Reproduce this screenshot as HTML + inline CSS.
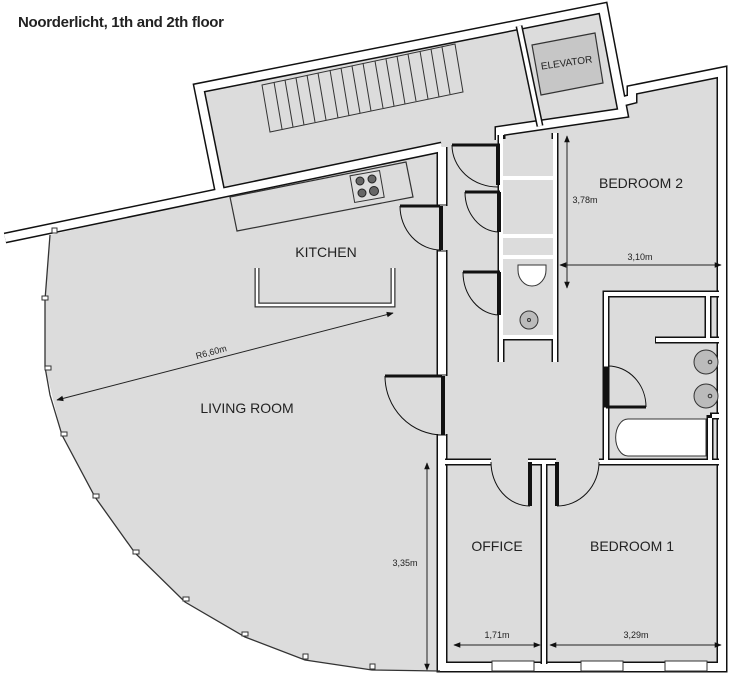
<!DOCTYPE html>
<html><head><meta charset="utf-8"><style>
html,body{margin:0;padding:0;background:#fff;}
svg{display:block;}
text{font-family:"Liberation Sans",sans-serif;fill:#222;}
</style></head><body>
<svg width="736" height="683" viewBox="0 0 736 683" xmlns="http://www.w3.org/2000/svg">
<defs>
<marker id="ar" viewBox="0 0 10 10" refX="9" refY="5" markerWidth="7" markerHeight="7" orient="auto-start-reverse"><path d="M0,1 L10,5 L0,9 z" fill="#111"/></marker>
</defs>
<text x="18" y="27" font-size="15" font-weight="bold" style="letter-spacing:-0.3px">Noorderlicht, 1th and 2th floor</text>

<!-- gray fill -->
<polygon fill="#dcdcdc" points="50,235 218,196 200,90 603,9 622,110 632,95 720,76 720,665 440,670 372,670 305,660 245,637 185,602 135,553 95,497 62,435 45,367 45,300"/>

<!-- outer walls (double line) -->
<g fill="none" stroke-linejoin="miter">
 <g stroke="#111" stroke-width="11">
  <polyline points="5,238 442,147"/>
  <polyline points="220,192 199,88 603,8 623,113 500,131 500,140"/>
  <polyline points="620,102 632,99 632,90 722,72 722,667 442,667 442,147"/>
 </g>
 <g stroke="#fff" stroke-width="8">
  <polyline points="5,238 442,147"/>
  <polyline points="220,192 199,88 603,8 623,113 500,131 500,140"/>
  <polyline points="620,102 632,99 632,90 722,72 722,667 442,667 442,147"/>
 </g>
</g>
<!-- door gaps in x=442 wall -->
<rect x="436" y="206" width="12" height="44" fill="#dcdcdc"/>
<rect x="436" y="376" width="12" height="58" fill="#dcdcdc"/>
<line x1="437" y1="205" x2="447" y2="205" stroke="#111"/>
<line x1="437" y1="251" x2="447" y2="251" stroke="#111"/>
<line x1="437" y1="375" x2="447" y2="375" stroke="#111"/>
<line x1="437" y1="435" x2="447" y2="435" stroke="#111"/>

<!-- arc wall -->
<polyline fill="none" stroke="#333" stroke-width="1.3" points="50,235 45,300 45,367 50,395 62,435 95,497 135,553 185,602 245,637 305,660 372,670 440,671"/>
<g fill="#fff" stroke="#333" stroke-width="1">
 <rect x="42" y="296" width="6" height="4"/><rect x="45" y="366" width="6" height="4"/>
 <rect x="61" y="432" width="6" height="4"/><rect x="93" y="494" width="6" height="4"/>
 <rect x="133" y="550" width="6" height="4"/><rect x="183" y="597" width="6" height="4"/>
 <rect x="242" y="632" width="6" height="4"/><rect x="303" y="654" width="5" height="5"/>
 <rect x="370" y="664" width="5" height="5"/><rect x="52" y="228" width="5" height="5"/>
</g>

<!-- stairs -->
<g stroke="#333" stroke-width="1" fill="none">
 <polygon points="262,85 455,44 463,92 270,132"/>
</g>
<g stroke="#333" stroke-width="1">
 <line x1="274" y1="82" x2="282" y2="129"/><line x1="285" y1="80" x2="293" y2="127"/>
 <line x1="296" y1="78" x2="304" y2="125"/><line x1="307" y1="75" x2="315" y2="122"/>
 <line x1="318" y1="73" x2="326" y2="120"/><line x1="330" y1="70" x2="338" y2="118"/>
 <line x1="341" y1="68" x2="349" y2="116"/><line x1="352" y1="66" x2="360" y2="113"/>
 <line x1="363" y1="63" x2="371" y2="111"/><line x1="375" y1="61" x2="383" y2="108"/>
 <line x1="386" y1="59" x2="394" y2="106"/><line x1="397" y1="56" x2="405" y2="104"/>
 <line x1="408" y1="54" x2="416" y2="101"/><line x1="420" y1="51" x2="428" y2="99"/>
 <line x1="431" y1="49" x2="439" y2="97"/><line x1="442" y1="47" x2="450" y2="94"/>
</g>
<!-- elevator shaft divider -->
<polyline fill="none" stroke="#111" stroke-width="7" points="519,26 540,126"/>
<polyline fill="none" stroke="#fff" stroke-width="4" points="519,26 540,126"/>
<polygon points="532,45 595,33 603,83 541,95" fill="#c6c6c6" stroke="#333" stroke-width="1.2"/>
<text x="567" y="66" font-size="10" text-anchor="middle" transform="rotate(-8 567 66)">ELEVATOR</text>

<!-- kitchen counter -->
<polygon points="230,197 406,162 413,197 237,231" fill="#dcdcdc" stroke="#333" stroke-width="1.2"/>
<rect x="352" y="173" width="30" height="27" fill="#ddd" stroke="#333" transform="rotate(-10 367 186)"/>
<g fill="#666" stroke="#222"><circle cx="360" cy="181" r="4"/><circle cx="372" cy="179" r="4"/><circle cx="362" cy="193" r="4"/><circle cx="374" cy="191" r="4.5"/></g>
<!-- island -->
<path d="M257,268 V305 H393 V268" fill="none" stroke="#333" stroke-width="5"/>
<path d="M257,268 V305 H393 V268" fill="none" stroke="#fff" stroke-width="2.5"/>

<!-- closet column -->
<g fill="none">
 <g stroke="#111" stroke-width="7">
  <line x1="501" y1="135" x2="501" y2="362"/><line x1="555" y1="133" x2="555" y2="362"/>
  <line x1="501" y1="178" x2="555" y2="178"/><line x1="501" y1="236" x2="555" y2="236"/>
  <line x1="501" y1="257" x2="555" y2="257"/><line x1="501" y1="337" x2="555" y2="337"/>
 </g>
 <g stroke="#fff" stroke-width="4">
  <line x1="501" y1="135" x2="501" y2="362"/><line x1="555" y1="133" x2="555" y2="362"/>
  <line x1="501" y1="178" x2="555" y2="178"/><line x1="501" y1="236" x2="555" y2="236"/>
  <line x1="501" y1="257" x2="555" y2="257"/><line x1="501" y1="337" x2="555" y2="337"/>
 </g>
</g>
<rect x="503" y="139" width="50" height="37" fill="#dcdcdc"/>
<rect x="503" y="180" width="50" height="54" fill="#dcdcdc"/>
<rect x="503" y="238" width="50" height="17" fill="#dcdcdc"/>
<rect x="503" y="259" width="50" height="76" fill="#dcdcdc"/>
<path d="M518,265 h28 v5 a14,16 0 1 1 -28,0 z" fill="#fff" stroke="#333"/>
<circle cx="529" cy="320" r="9" fill="#bbb" stroke="#333"/><circle cx="529" cy="320" r="1.5" fill="none" stroke="#333"/>

<!-- doors -->
<g fill="none" stroke="#111">
 <line x1="452" y1="145" x2="500" y2="145" stroke-width="3"/><line x1="498" y1="145" x2="498" y2="185" stroke-width="4"/>
 <path d="M452,145 A46,42 0 0 0 498,187" stroke-width="1"/>
 <line x1="465" y1="192" x2="500" y2="192" stroke-width="3"/><line x1="499" y1="192" x2="499" y2="232" stroke-width="4"/>
 <path d="M465,192 A35,40 0 0 0 499,232" stroke-width="1"/>
 <line x1="463" y1="272" x2="500" y2="272" stroke-width="3"/><line x1="499" y1="272" x2="499" y2="315" stroke-width="4"/>
 <path d="M463,272 A37,43 0 0 0 499,315" stroke-width="1"/>
 <line x1="400" y1="206" x2="440" y2="206" stroke-width="3"/><line x1="441" y1="206" x2="441" y2="250" stroke-width="4"/>
 <path d="M400,206 A41,44 0 0 0 441,250" stroke-width="1"/>
 <line x1="385" y1="376" x2="442" y2="376" stroke-width="3"/><line x1="443" y1="376" x2="443" y2="435" stroke-width="4"/>
 <path d="M385,376 A58,59 0 0 0 443,435" stroke-width="1"/>
</g>

<!-- bathroom -->
<g fill="none">
 <g stroke="#111" stroke-width="7">
  <polyline points="606,460 606,294 719,294"/>
  <line x1="708" y1="294" x2="708" y2="340"/><line x1="655" y1="340" x2="719" y2="340"/>
  <line x1="710" y1="415" x2="710" y2="460"/><line x1="710" y1="416" x2="719" y2="416"/>
  <line x1="445" y1="462" x2="719" y2="462"/><line x1="544" y1="462" x2="544" y2="664"/>
 </g>
 <g stroke="#fff" stroke-width="4">
  <polyline points="606,460 606,294 719,294"/>
  <line x1="708" y1="296" x2="708" y2="338"/><line x1="656" y1="340" x2="719" y2="340"/>
  <line x1="710" y1="418" x2="710" y2="460"/><line x1="712" y1="416" x2="719" y2="416"/>
  <line x1="445" y1="462" x2="719" y2="462"/><line x1="544" y1="462" x2="544" y2="664"/>
 </g>
</g>
<path d="M628,419 h78 v37 h-78 a12,18 0 0 1 0,-37 z" fill="#fff" stroke="#333"/>
<circle cx="706" cy="362" r="12" fill="#bbb" stroke="#333"/><circle cx="710" cy="362" r="1.8" fill="none" stroke="#333"/>
<circle cx="706" cy="396" r="12" fill="#bbb" stroke="#333"/><circle cx="710" cy="396" r="1.8" fill="none" stroke="#333"/>
<g fill="none" stroke="#111">
 <rect x="603" y="367" width="5" height="40" fill="#111"/>
 <line x1="606" y1="407" x2="646" y2="407" stroke-width="3"/>
 <path d="M608,366 A38,41 0 0 1 646,407" stroke-width="1"/>
</g>
<!-- office/bedroom1 door gaps -->
<rect x="491" y="457" width="37" height="10" fill="#dcdcdc"/>
<rect x="556" y="457" width="43" height="10" fill="#dcdcdc"/>
<g fill="none" stroke="#111">
 <line x1="530" y1="462" x2="530" y2="506" stroke-width="4"/>
 <path d="M491,462 A39,44 0 0 0 530,506" stroke-width="1"/>
 <line x1="557" y1="462" x2="557" y2="506" stroke-width="4"/>
 <path d="M599,462 A42,44 0 0 1 557,506" stroke-width="1"/>
</g>
<!-- window bumps bottom -->
<g fill="#fff" stroke="#333">
 <rect x="492" y="661" width="42" height="10"/><rect x="581" y="661" width="42" height="10"/><rect x="665" y="661" width="42" height="10"/>
</g>

<!-- dimensions -->
<g stroke="#222" stroke-width="1" marker-start="url(#ar)" marker-end="url(#ar)">
 <line x1="567" y1="136" x2="567" y2="288"/>
 <line x1="560" y1="265" x2="721" y2="265"/>
 <line x1="57" y1="400" x2="393" y2="313"/>
 <line x1="427" y1="463" x2="427" y2="670"/>
 <line x1="454" y1="645" x2="540" y2="645"/>
 <line x1="550" y1="645" x2="721" y2="645"/>
</g>
<g font-size="9">
 <text x="585" y="203" text-anchor="middle">3,78m</text>
 <text x="640" y="260" text-anchor="middle">3,10m</text>
 <text x="212" y="355" text-anchor="middle" transform="rotate(-15 212 355)">R6,60m</text>
 <text x="405" y="566" text-anchor="middle">3,35m</text>
 <text x="497" y="638" text-anchor="middle">1,71m</text>
 <text x="636" y="638" text-anchor="middle">3,29m</text>
</g>
<g font-size="14">
 <text x="641" y="188" text-anchor="middle">BEDROOM 2</text>
 <text x="326" y="257" text-anchor="middle">KITCHEN</text>
 <text x="247" y="413" text-anchor="middle">LIVING ROOM</text>
 <text x="497" y="551" text-anchor="middle">OFFICE</text>
 <text x="632" y="551" text-anchor="middle">BEDROOM 1</text>
</g>
</svg>
</body></html>
